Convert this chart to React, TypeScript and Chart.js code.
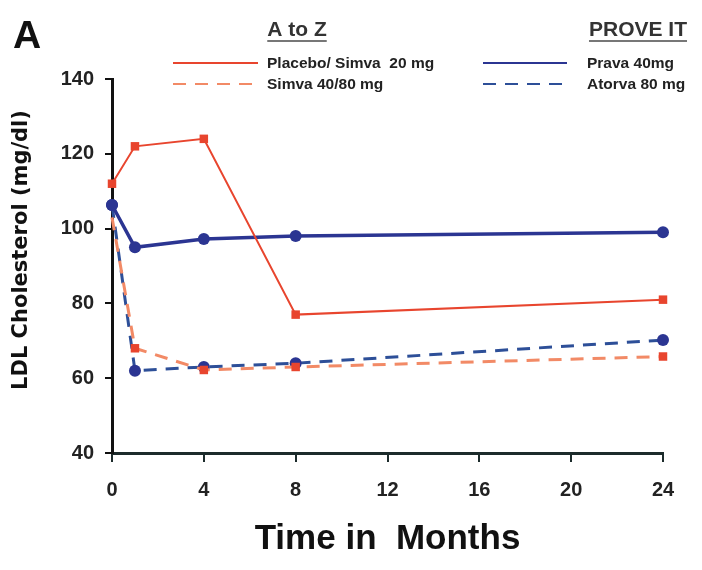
import React, { useEffect, useRef } from "react";
import { Chart, registerables } from "chart.js";

Chart.register(...registerables);

const months = [0, 1, 4, 8, 24];
const placeboSimva20 = [112, 122, 124, 77, 81];
const simva4080 = [103, 68, 62.2, 63, 65.8];
const prava40 = [106.3, 95, 97.2, 98, 99];
const atorva80 = [106.3, 62, 63, 64, 70.2];

const xTicks = [0, 4, 8, 12, 16, 20, 24];
const yTicks = [40, 60, 80, 100, 120, 140];

const panelLetter = "A";
const groupTitles = ["A to Z", "PROVE IT"];
const seriesNames = ["Placebo/ Simva  20 mg", "Simva 40/80 mg", "Prava 40mg", "Atorva 80 mg"];
const xTitle = "Time in  Months";
const yTitle = "LDL Cholesterol (mg/dl)";

const RED = "#e8452e";
const RED_LIGHT = "#f28a66";
const BLUE = "#2b3592";
const BLUE_DASH = "#2d4f98";

const FONT = '"Liberation Sans", Arial, sans-serif';
const WIDE_FONT = '"DejaVu Sans", "Liberation Sans", sans-serif';

const toPts = (ys: number[]) => months.map((m, i) => ({ x: m, y: ys[i] }));

const legendPlugin = {
  id: "customLegend",
  afterDraw(chart: any) {
    const ctx = chart.ctx as CanvasRenderingContext2D;
    ctx.save();
    // panel letter
    ctx.fillStyle = "#111";
    ctx.font = `bold 39px ${FONT}`;
    ctx.textBaseline = "alphabetic";
    ctx.textAlign = "left";
    ctx.fillText(panelLetter, 13, 48);

    // y-axis title
    ctx.save();
    ctx.translate(22, 250);
    ctx.rotate(-Math.PI / 2);
    ctx.font = `bold 21px ${WIDE_FONT}`;
    ctx.textAlign = "center";
    ctx.textBaseline = "middle";
    ctx.fillStyle = "#111";
    ctx.fillText(yTitle, 0, 0);
    ctx.restore();

    // group titles
    ctx.font = `bold 21px ${FONT}`;
    const titles = [
      { text: groupTitles[0], cx: 297 },
      { text: groupTitles[1], cx: 638 },
    ];
    titles.forEach((t) => {
      ctx.fillStyle = "#333";
      ctx.textAlign = "center";
      ctx.textBaseline = "alphabetic";
      ctx.fillText(t.text, t.cx, 36);
      const w = ctx.measureText(t.text).width;
      ctx.strokeStyle = "#777";
      ctx.lineWidth = 2;
      ctx.setLineDash([]);
      ctx.beginPath();
      ctx.moveTo(t.cx - w / 2, 41);
      ctx.lineTo(t.cx + w / 2, 41);
      ctx.stroke();
    });

    // legend entries
    const ds = chart.data.datasets;
    const entries = [
      { i: 0, x0: 173, x1: 258, y: 63, tx: 267 },
      { i: 1, x0: 173, x1: 258, y: 84, tx: 267 },
      { i: 2, x0: 483, x1: 567, y: 63, tx: 587 },
      { i: 3, x0: 483, x1: 567, y: 84, tx: 587 },
    ];
    ctx.font = `bold 15.5px ${FONT}`;
    ctx.textAlign = "left";
    ctx.textBaseline = "middle";
    entries.forEach((e) => {
      const d = ds[e.i];
      ctx.strokeStyle = d.borderColor;
      ctx.lineWidth = 2;
      ctx.setLineDash(d.borderDash || []);
      ctx.beginPath();
      ctx.moveTo(e.x0, e.y);
      ctx.lineTo(e.x1, e.y);
      ctx.stroke();
      ctx.setLineDash([]);
      ctx.fillStyle = "#222";
      ctx.fillText(seriesNames[e.i], e.tx, e.y + 1);
    });
    ctx.restore();
  },
};

export default function App() {
  const ref = useRef<HTMLCanvasElement | null>(null);

  useEffect(() => {
    document.body.style.margin = "0";
    const canvas = ref.current;
    if (!canvas) return;
    const chart = new Chart(canvas, {
      type: "line",
      data: {
        datasets: [
          {
            label: seriesNames[0],
            data: toPts(placeboSimva20),
            borderColor: RED,
            backgroundColor: RED,
            borderWidth: 2,
            pointStyle: "rect",
            pointRadius: 6,
            pointBorderWidth: 0,
          },
          {
            label: seriesNames[1],
            data: toPts(simva4080),
            borderColor: RED_LIGHT,
            backgroundColor: RED,
            borderWidth: 3,
            borderDash: [13, 9],
            pointStyle: "rect",
            pointRadius: [0, 6, 6, 6, 6],
            pointBorderWidth: 0,
          },
          {
            label: seriesNames[2],
            data: toPts(prava40),
            borderColor: BLUE,
            backgroundColor: BLUE,
            borderWidth: 3.5,
            pointStyle: "circle",
            pointRadius: 6,
            pointBorderWidth: 0,
          },
          {
            label: seriesNames[3],
            data: toPts(atorva80),
            borderColor: BLUE_DASH,
            backgroundColor: BLUE,
            borderWidth: 3,
            borderDash: [13, 9],
            pointStyle: "circle",
            pointRadius: 6,
            pointBorderWidth: 0,
          },
        ],
      },
      options: {
        animation: false,
        responsive: false,
        maintainAspectRatio: false,
        devicePixelRatio: 1,
        layout: { padding: { top: 79, right: 39, left: 0, bottom: 0 } },
        plugins: { legend: { display: false }, tooltip: { enabled: false } },
        elements: { line: { tension: 0 } },
        clip: false as any,
        scales: {
          x: {
            type: "linear",
            min: 0,
            max: 24,
            afterBuildTicks: (scale: any) => {
              scale.ticks = xTicks.map((v) => ({ value: v }));
            },
            afterFit: (scale: any) => {
              scale.height = 570 - 453;
            },
            ticks: {
              color: "#222",
              font: { family: FONT, size: 20, weight: "bold" },
              padding: 16,
              maxRotation: 0,
              autoSkip: false,
            },
            grid: {
              drawOnChartArea: false,
              drawTicks: true,
              tickLength: 9,
              color: "#1c2b2b",
              lineWidth: 2,
            },
            border: { display: true, color: "#1c2b2b", width: 3 },
            title: {
              display: true,
              text: xTitle,
              color: "#111",
              font: { family: FONT, size: 35, weight: "bold" },
              padding: { top: 0, bottom: 10 },
            },
          },
          y: {
            type: "linear",
            min: 40,
            max: 140,
            afterBuildTicks: (scale: any) => {
              scale.ticks = yTicks.map((v) => ({ value: v }));
            },
            afterFit: (scale: any) => {
              scale.width = 112;
            },
            ticks: {
              color: "#222",
              font: { family: FONT, size: 20, weight: "bold" },
              padding: 11,
            },
            grid: {
              drawOnChartArea: false,
              drawTicks: true,
              tickLength: 7,
              color: "#111",
              lineWidth: 2,
            },
            border: { display: true, color: "#111", width: 3 },
            title: { display: false },
          },
        },
      },
      plugins: [legendPlugin],
    });
    return () => chart.destroy();
  }, []);

  return (
    <div style={{ width: 702, height: 570 }}>
      <canvas ref={ref} width={702} height={570} style={{ display: "block", width: 702, height: 570 }} />
    </div>
  );
}
